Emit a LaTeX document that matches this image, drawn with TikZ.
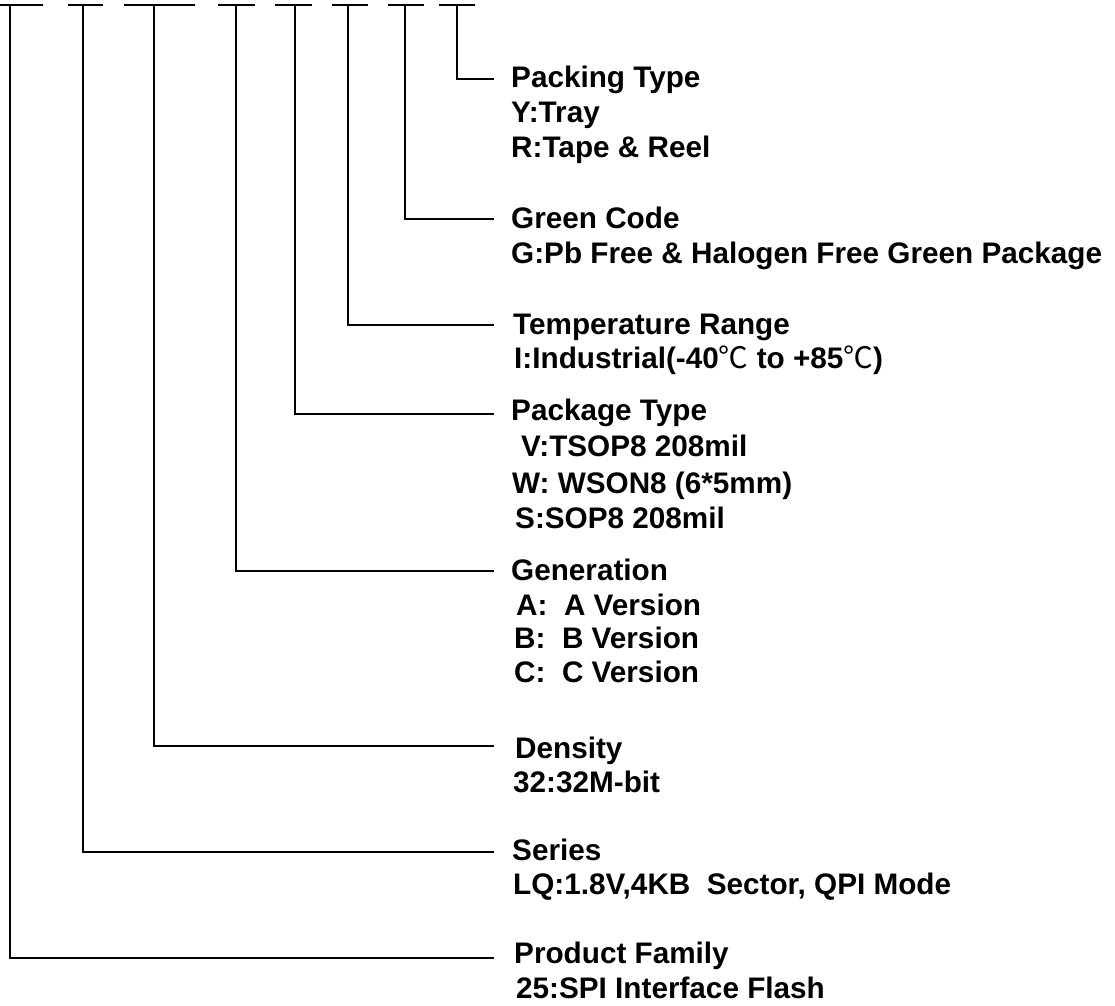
\documentclass[tikz,border=0pt]{standalone}
\usepackage{fontspec}
\setmainfont{Liberation Sans}
\newfontfamily\cjk{Noto Sans CJK SC}
\newcommand{\degc}{{\cjk\mdseries ℃}}
\begin{document}
\begin{tikzpicture}[x=1pt,y=-1pt,
  lbl/.style={anchor=base west, inner sep=0pt, font=\fontsize{29.7}{35}\selectfont\bfseries},
  conn/.style={line width=1.5pt, line cap=butt, line join=miter}]
\useasboundingbox (0,0) rectangle (1115,1005);
% top placeholders of the part number
\foreach \a/\b in {0/43,68/103,124/195,218/255,275/312,332/368,388/424,439/475}
  \draw[conn] (\a,5) -- (\b,5);
\coordinate (t1) at (10,5);
\coordinate (t2) at (83,5);
\coordinate (t3) at (154,5);
\coordinate (t4) at (236,5);
\coordinate (t5) at (295,5);
\coordinate (t6) at (348,5);
\coordinate (t7) at (405,5);
\coordinate (t8) at (457,5);
% line ends
\coordinate (e8) at (494,79);
\coordinate (e7) at (494,219);
\coordinate (e6) at (494,325);
\coordinate (e5) at (494,414);
\coordinate (e4) at (494,571);
\coordinate (e3) at (494,746);
\coordinate (e2) at (494,852);
\coordinate (e1) at (494,958);
% texts
\node[lbl] (pk) at (511,87) {Packing Type};
\node[lbl] (pk1) at (511,122) {Y:Tray};
\node[lbl] (pk2) at (511,157) {R:Tape \& Reel};
\node[lbl] (gc) at (511,228) {Green Code};
\node[lbl] (gc1) at (511,263) {G:Pb Free \& Halogen Free Green Package};
\node[lbl] (tr) at (513,334) {Temperature Range};
\node[lbl] (tr1) at (514,368) {I:Industrial(-40\degc\ to +85\degc)};
\node[lbl] (pt) at (511,420) {Package Type};
\node[lbl] (pt1) at (521,456) {V:TSOP8 208mil};
\node[lbl] (pt2) at (512,493) {W: WSON8 (6*5mm)};
\node[lbl] (pt3) at (515,528) {S:SOP8 208mil};
\node[lbl] (gen) at (511,580) {Generation};
\node[lbl] (gen1) at (516,615) {A:\ \ A Version};
\node[lbl] (gen2) at (514,648) {B:\ \ B Version};
\node[lbl] (gen3) at (514,682) {C:\ \ C Version};
\node[lbl] (den) at (515,758) {Density};
\node[lbl] (den1) at (513,792) {32:32M-bit};
\node[lbl] (ser) at (512,860) {Series};
\node[lbl] (ser1) at (513,894) {LQ:1.8V,4KB\ \ Sector, QPI Mode};
\node[lbl] (pf) at (514,963) {Product Family};
\node[lbl] (pf1) at (516,998) {25:SPI Interface Flash};
% connectors
\draw[conn] (t8) |- (e8);
\draw[conn] (t7) |- (e7);
\draw[conn] (t6) |- (e6);
\draw[conn] (t5) |- (e5);
\draw[conn] (t4) |- (e4);
\draw[conn] (t3) |- (e3);
\draw[conn] (t2) |- (e2);
\draw[conn] (t1) |- (e1);
\end{tikzpicture}
\end{document}
